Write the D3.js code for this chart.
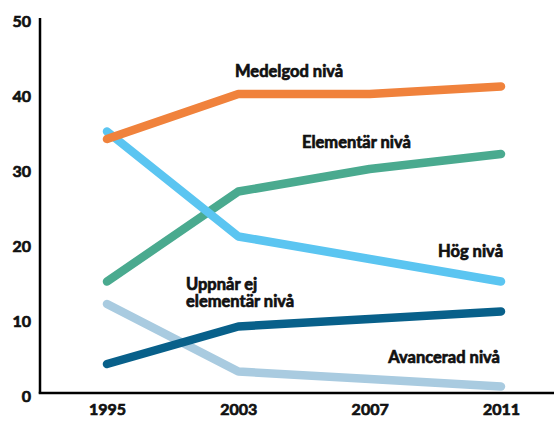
<!DOCTYPE html>
<html><head><meta charset="utf-8">
<script src="https://cdn.jsdelivr.net/npm/d3@7"></script>
<style>
html,body{margin:0;padding:0;background:#fff;}
svg{display:block;}
text{font-family:Lato,"Open Sans",sans-serif;font-weight:700;fill:#111;stroke:#111;stroke-width:0.7px;}
</style></head>
<body>
<script>
const years = ["1995","2003","2007","2011"];
const yTicks = [0,10,20,30,40,50];
const seriesNames = ["Medelgod nivå","Elementär nivå","Hög nivå","Uppnår ej elementär nivå","Avancerad nivå"];
const medelgod = [34,40,40,41];
const elementar = [15,27,30,32];
const hog = [35,21,18,15];
const uppnarEj = [4,9,10,11];
const avancerad = [12,3,2,1];
const colors = ["#f0823c","#4aaa8f","#5bc5f1","#08608a","#a9cbe0"];
const seriesValues = [medelgod, elementar, hog, uppnarEj, avancerad];

const W = 554, H = 421;
const svg = d3.select("body").append("svg").attr("width", W).attr("height", H);

const x = d3.scalePoint().domain(years).range([107, 501]);
const y = d3.scaleLinear().domain([0,50]).range([394, 19]);

// axes
const axisG = svg.append("g");
axisG.append("line").attr("x1",40).attr("x2",40).attr("y1",y(50)-1).attr("y2",393.5)
  .attr("stroke","#000").attr("stroke-width",2.5);
axisG.append("line").attr("x1",38.75).attr("x2",W).attr("y1",393).attr("y2",393)
  .attr("stroke","#000").attr("stroke-width",2.5);

const yAxis = d3.axisLeft(y).tickValues(yTicks).tickSize(0).tickPadding(0);
const yg = svg.append("g").attr("transform","translate(31,2)").call(yAxis);
yg.select(".domain").remove();
yg.selectAll("text").style("font-size","16px").style("font-family","Lato,sans-serif").style("font-weight","700").attr("fill","#111");

const xAxis = d3.axisBottom(x).tickSize(0).tickPadding(0);
const xg = svg.append("g").attr("transform","translate(0,404)").call(xAxis);
xg.select(".domain").remove();
xg.selectAll("text").style("font-size","16px").style("font-family","Lato,sans-serif").style("font-weight","700").attr("fill","#111");

// lines
const line = d3.line().x((d,i)=>x(years[i])).y(d=>y(d));
const drawOrder = [4,3,1,2,0];
drawOrder.forEach(k=>{
  svg.append("path").datum(seriesValues[k]).attr("d", line)
    .attr("fill","none").attr("stroke", colors[k]).attr("stroke-width", 8.5)
    .attr("stroke-linecap","round").attr("stroke-linejoin","round");
});

// labels
const labels = [
  {t:["Medelgod nivå"], x:235, y:77, a:"start"},
  {t:["Elementär nivå"], x:302, y:148, a:"start"},
  {t:["Hög nivå"], x:503, y:257, a:"end"},
  {t:["Uppnår ej","elementär nivå"], x:186, y:290, a:"start"},
  {t:["Avancerad nivå"], x:500, y:363, a:"end"}
];
labels.forEach(l=>{
  const tx = svg.append("text").attr("text-anchor", l.a).style("font-size","16.5px");
  l.t.forEach((s,i)=>tx.append("tspan").attr("x",l.x).attr("y",l.y+i*17).text(s));
});
</script>
</body></html>
